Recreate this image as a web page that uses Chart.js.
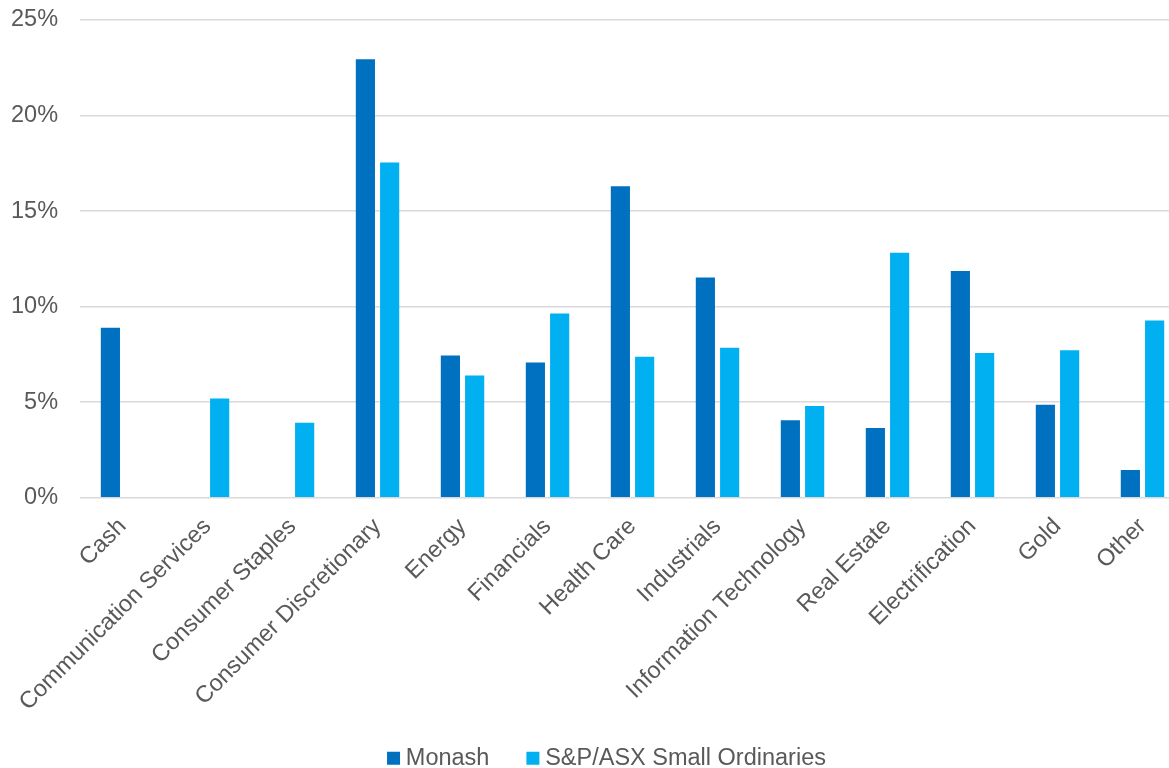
<!DOCTYPE html>
<html>
<head>
<meta charset="utf-8">
<script src="https://cdn.jsdelivr.net/npm/chart.js@4/dist/chart.umd.min.js"></script>
<style>
  html, body { margin: 0; padding: 0; background: #ffffff; overflow: hidden; }
  #wrap { position: relative; width: 1208px; height: 768px; }
</style>
</head>
<body>
<div id="wrap"><canvas id="c"></canvas></div>
<script>
const categories = ["Cash", "Communication Services", "Consumer Staples", "Consumer Discretionary", "Energy", "Financials", "Health Care", "Industrials", "Information Technology", "Real Estate", "Electrification", "Gold", "Other"];
const monash = [8.9, null, null, 22.95, 7.45, 7.08, 16.3, 11.53, 4.06, 3.65, 11.87, 4.87, 1.45];
const smallOrds = [null, 5.2, 3.92, 17.55, 6.4, 9.64, 7.38, 7.85, 4.8, 12.82, 7.57, 7.72, 9.27];
const seriesNames = ["Monash", "S&P/ASX Small Ordinaries"];
const yTicks = [0, 5, 10, 15, 20, 25];

const textColor = "#595959";
const font = { family: "'Liberation Sans', Arial, sans-serif", size: 23.5 };

new Chart(document.getElementById("c"), {
  type: "bar",
  data: {
    labels: categories,
    datasets: [
      { label: seriesNames[0], data: monash, backgroundColor: "#0070C0", barPercentage: 0.79, categoryPercentage: 0.571 },
      { label: seriesNames[1], data: smallOrds, backgroundColor: "#00B0F0", barPercentage: 0.79, categoryPercentage: 0.571 }
    ]
  },
  options: {
    responsive: true,
    maintainAspectRatio: false,
    animation: false,
    layout: { padding: { top: 20, left: 11, bottom: -12, right: 0 } },
    plugins: {
      legend: {
        position: "bottom",
        labels: { color: textColor, font: font, usePointStyle: true, pointStyle: "rect", boxWidth: 1, boxHeight: 13, padding: 43 }
      },
      tooltip: { enabled: false }
    },
    scales: {
      x: {
        grid: { display: false },
        border: { display: false },
        ticks: { color: textColor, font: font, minRotation: 45, maxRotation: 45, autoSkip: false, padding: 7 },
        afterFit: (s) => {
          s.paddingLeft = 0; s.paddingRight = 0; s.height = s.height - 20;
          s._computeLabelArea = () => undefined;
        }
      },
      y: {
        min: 0, max: 25,
        afterBuildTicks: (s) => { s.ticks = yTicks.map(v => ({ value: v })); },
        grid: { color: "#d9d9d9", lineWidth: 1.5, drawTicks: false },
        border: { display: false },
        ticks: { color: textColor, font: font, padding: 22, callback: (v) => v + "%" },
        afterFit: (s) => { s.width = s.width - 22; s.paddingTop = 0; s.paddingBottom = 0; }
      },
      yRight: {
        position: "right",
        display: true,
        grid: { display: false, drawTicks: false },
        border: { display: false },
        ticks: { display: false },
        afterFit: (s) => { s.width = 23; }
      }
    }
  }
});
</script>
</body>
</html>
